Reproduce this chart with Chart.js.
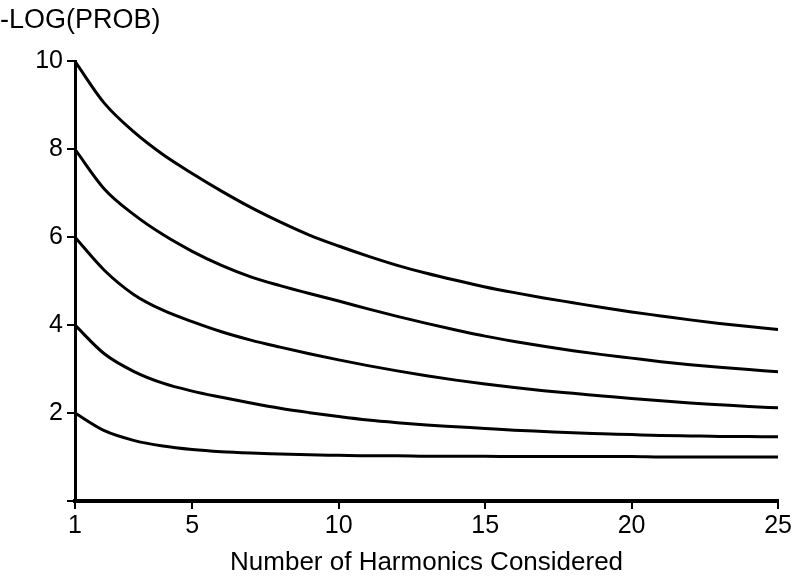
<!DOCTYPE html>
<html>
<head>
<meta charset="utf-8">
<script src="https://cdn.jsdelivr.net/npm/chart.js@4"></script>
<style>
  html, body { margin: 0; padding: 0; background: #fff; }
  #wrap { width: 794px; height: 578px; }
</style>
</head>
<body>
<div id="wrap"><canvas id="chart" width="794" height="578"></canvas></div>
<script>
const harmonics = [1, 2, 3, 4, 5, 6, 7, 8, 9, 10, 11, 12, 13, 14, 15, 16, 17, 18, 19, 20, 21, 22, 23, 24, 25];
const curve10 = [10.0, 9.05, 8.40, 7.88, 7.45, 7.05, 6.68, 6.35, 6.05, 5.80, 5.57, 5.36, 5.18, 5.02, 4.87, 4.74, 4.62, 4.51, 4.40, 4.30, 4.21, 4.12, 4.04, 3.97, 3.90];
const curve8 = [8.0, 7.10, 6.52, 6.06, 5.68, 5.36, 5.10, 4.90, 4.72, 4.55, 4.37, 4.20, 4.04, 3.89, 3.75, 3.63, 3.52, 3.42, 3.33, 3.25, 3.17, 3.10, 3.04, 2.99, 2.94];
const curve6 = [6.0, 5.25, 4.70, 4.34, 4.08, 3.85, 3.66, 3.50, 3.35, 3.21, 3.08, 2.96, 2.85, 2.75, 2.66, 2.58, 2.51, 2.45, 2.39, 2.33, 2.28, 2.23, 2.19, 2.15, 2.12];
const curve4 = [4.0, 3.35, 2.95, 2.68, 2.50, 2.36, 2.23, 2.11, 2.01, 1.92, 1.84, 1.78, 1.73, 1.69, 1.65, 1.61, 1.58, 1.55, 1.53, 1.51, 1.49, 1.48, 1.47, 1.47, 1.46];
const curve2 = [2.0, 1.60, 1.38, 1.25, 1.17, 1.12, 1.09, 1.07, 1.05, 1.04, 1.03, 1.03, 1.02, 1.02, 1.02, 1.01, 1.01, 1.01, 1.01, 1.01, 1.0, 1.0, 1.0, 1.0, 1.0];
const xTicks = [1, 5, 10, 15, 20, 25];
const yTicks = [0, 2, 4, 6, 8, 10];

const FONT = "'Liberation Sans', Arial, Helvetica, sans-serif";

function series(vals) {
    return {
        data: harmonics.map((h, i) => ({x: h, y: vals[i]})),
        borderColor: '#000',
        borderWidth: 3,
        pointRadius: 0,
        fill: false,
        cubicInterpolationMode: 'monotone'
    };
}

new Chart("chart", {
    type: 'line',
    data: {
        datasets: [curve10, curve8, curve6, curve4, curve2].map(series)
    },
    options: {
        responsive: false,
        animation: false,
        layout: {padding: {top: 0, left: 0, right: 15, bottom: 0}},
        plugins: {
            legend: {display: false},
            tooltip: {enabled: false},
            title: {
                display: true,
                text: '-LOG(PROB)',
                align: 'start',
                color: '#000',
                font: {family: FONT, size: 27, weight: 'normal'},
                padding: {top: 4, bottom: 25}
            }
        },
        scales: {
            x: {
                type: 'linear',
                min: 1, max: 25,
                afterBuildTicks: s => { s.ticks = xTicks.map(v => ({value: v})); },
                afterFit: s => { s.height = 77; },
                grid: {drawOnChartArea: false, color: '#000', lineWidth: 2, tickLength: 8},
                border: {color: '#000', width: 4},
                ticks: {color: '#000', font: {family: FONT, size: 25}, padding: 2, maxRotation: 0},
                title: {
                    display: true,
                    text: 'Number of Harmonics Considered',
                    color: '#000',
                    font: {family: FONT, size: 26},
                    padding: {top: 0, bottom: 0}
                }
            },
            y: {
                min: 0, max: 10,
                afterBuildTicks: s => { s.ticks = yTicks.map(v => ({value: v})); },
                afterFit: s => { s.width = 75; },
                grid: {drawOnChartArea: false, color: '#000', lineWidth: 2, tickLength: 8},
                border: {color: '#000', width: 3},
                ticks: {
                    color: '#000',
                    font: {family: FONT, size: 25},
                    padding: 4,
                    callback: v => v === 0 ? '' : v
                }
            }
        }
    }
});
</script>
</body>
</html>
